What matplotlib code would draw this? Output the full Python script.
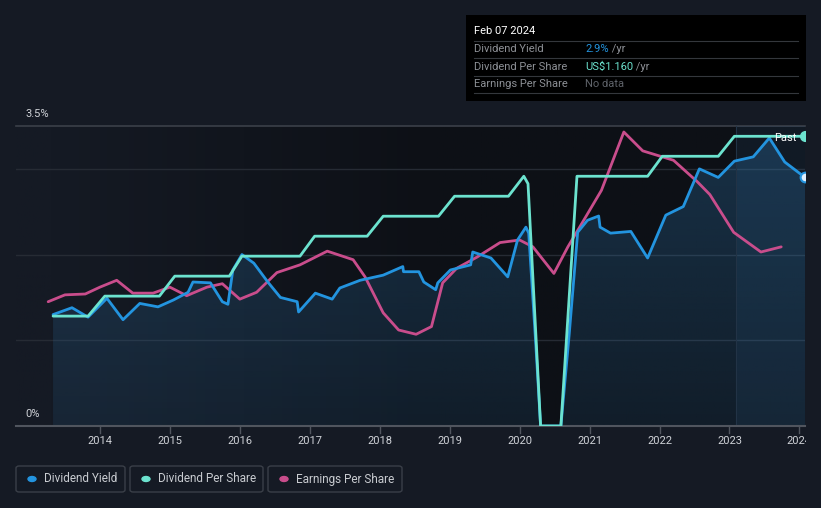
import numpy as np
import matplotlib.pyplot as plt
from matplotlib.patches import FancyBboxPatch, Rectangle
from matplotlib.transforms import Bbox, TransformedBbox
from matplotlib.colors import to_rgb

plt.rcParams['font.family'] = ['Roboto', 'DejaVu Sans']

# dividend yield (%)
yield_x = [2013.33, 2013.6, 2013.83, 2014.1, 2014.33, 2014.57, 2014.83, 2015.05, 2015.26, 2015.33,
           2015.58, 2015.75, 2015.83, 2015.9, 2016.03, 2016.2, 2016.4, 2016.58, 2016.82, 2016.84,
           2017.08, 2017.32, 2017.43, 2017.72, 2018.05, 2018.33, 2018.34, 2018.56, 2018.63, 2018.8,
           2018.83, 2019.01, 2019.3, 2019.33, 2019.59, 2019.83, 2019.97, 2020.09, 2020.13, 2020.23,
           2020.3, 2020.59, 2020.71, 2020.83, 2020.97, 2021.13, 2021.15, 2021.3, 2021.59, 2021.83,
           2022.09, 2022.34, 2022.57, 2022.84, 2023.07, 2023.34, 2023.57, 2023.79, 2024.08]
yield_y = [1.30, 1.38, 1.27, 1.49, 1.24, 1.43, 1.39, 1.47, 1.56, 1.68,
           1.67, 1.45, 1.42, 1.82, 2.00, 1.90, 1.68, 1.50, 1.45, 1.33,
           1.55, 1.48, 1.61, 1.70, 1.76, 1.86, 1.80, 1.80, 1.68, 1.59,
           1.67, 1.82, 1.88, 2.03, 1.96, 1.74, 2.17, 2.32, 2.25, 0.97,
           0.0, 0.0, 1.08, 2.26, 2.40, 2.45, 2.32, 2.25, 2.27, 1.96,
           2.46, 2.56, 3.00, 2.90, 3.09, 3.14, 3.36, 3.08, 2.90]

# dividend per share (US$)
dps_x = [2013.33, 2013.83, 2014.07, 2014.85, 2015.07, 2015.85, 2016.03, 2016.86, 2017.07, 2017.82,
         2018.05, 2018.84, 2019.07, 2019.84, 2020.06, 2020.12, 2020.3, 2020.59, 2020.82, 2021.83,
         2022.04, 2022.84, 2023.07, 2024.08]
dps_y = [0.44, 0.44, 0.52, 0.52, 0.60, 0.60, 0.68, 0.68, 0.76, 0.76,
         0.84, 0.84, 0.92, 0.92, 1.00, 0.97, 0.0, 0.0, 1.00, 1.00,
         1.08, 1.08, 1.16, 1.16]

# earnings per share (relative scale)
eps_x = [2013.26, 2013.5, 2013.79, 2014.0, 2014.24, 2014.47, 2014.76, 2015.0, 2015.24, 2015.53,
         2015.75, 2016.0, 2016.24, 2016.53, 2016.86, 2017.25, 2017.62, 2017.79, 2018.05, 2018.27,
         2018.52, 2018.74, 2018.9, 2019.1, 2019.39, 2019.72, 2020.0, 2020.19, 2020.49, 2020.69,
         2020.88, 2021.17, 2021.49, 2021.76, 2022.2, 2022.54, 2022.72, 2023.06, 2023.45, 2023.74]
eps_y = [1.45, 1.53, 1.54, 1.62, 1.70, 1.55, 1.55, 1.62, 1.52, 1.62,
         1.66, 1.48, 1.56, 1.79, 1.88, 2.04, 1.94, 1.74, 1.32, 1.12,
         1.07, 1.16, 1.67, 1.84, 1.97, 2.14, 2.17, 2.09, 1.78, 2.09,
         2.35, 2.75, 3.43, 3.21, 3.10, 2.85, 2.70, 2.26, 2.03, 2.09]

years = list(range(2014, 2025))
past_start = 2023.1

BG = '#151a24'
DARK = '#0d1016'
BLUE = '#2394df'
TEAL = '#6ce3cf'
PINK = '#c94d8c'

W, H = 821, 508
X0, X1 = 2012.8, 2024.08
fig = plt.figure(figsize=(W / 100, H / 100), dpi=100, facecolor=BG)
ax = fig.add_axes([16 / W, (H - 426) / H, (805 - 16) / W, 300 / H])
ax.set_facecolor(BG)
ax.set_xlim(X0, X1)
ax.set_ylim(0, 3.5)
for s in ax.spines.values():
    s.set_visible(False)
ax.set_xticks([])
ax.set_yticks([])

# background: fades from page colour to dark towards the right
xs = np.linspace(X0, X1, 400)
t = np.clip((xs - 2013.3) / 5.5, 0, 1)
c0, c1 = np.array(to_rgb(BG)), np.array(to_rgb(DARK))
bg_img = (c0[None, :] * (1 - t[:, None]) + c1[None, :] * t[:, None])[None, :, :]
ax.imshow(bg_img, extent=[X0, X1, 0, 3.5], aspect='auto', zorder=0.5)

# gridlines
for g in [1, 2, 3]:
    ax.axhline(g, color='#262b34', lw=1, zorder=1)
ax.axhline(3.5, color='#3b4049', lw=1.2, zorder=1, clip_on=False)
ax.axhline(0, color='#50555e', lw=1.5, zorder=5, clip_on=False)

# area under yield, translucent blue fading downwards
poly = ax.fill_between(yield_x, yield_y, 0, color='none', lw=0)
a = np.linspace(0.13, 0.32, 256)
fill_img = np.zeros((256, 1, 4))
fill_img[:, 0, :3] = to_rgb('#2f78b0')
fill_img[:, 0, 3] = a
im = ax.imshow(fill_img, extent=[X0, X1, 0, 3.5], origin='lower', aspect='auto', zorder=2)
im.set_clip_path(poly.get_paths()[0], transform=ax.transData)

# past region
ax.axvspan(past_start, X1, color='#3a78b0', alpha=0.1, lw=0, zorder=2.5)
ax.axvline(past_start, color='#223346', lw=0.8, zorder=2.5)

ax2 = ax.twinx()
ax2.set_ylim(0, 1.16 * 3.5 / 3.38)
ax2.axis('off')

ax.plot(eps_x, eps_y, color=PINK, lw=2, zorder=6, solid_capstyle='round', solid_joinstyle='round')
ax.plot(yield_x, yield_y, color=BLUE, lw=2, zorder=7, solid_capstyle='round', solid_joinstyle='round')
ax2.plot(dps_x, dps_y, color=TEAL, lw=2, zorder=8, solid_capstyle='round', solid_joinstyle='round')
ax2.plot([dps_x[-1]], [dps_y[-1]], 'o', ms=7, mfc=TEAL, mec=TEAL, zorder=9)
ax.plot([yield_x[-1]], [yield_y[-1]], 'o', ms=7, mfc='#dff0ff', mec=BLUE, mew=1.5, zorder=9)

fig.text(785 / W, 1 - 138 / H, 'Past', color='white', fontsize=8, ha='center', va='center', zorder=10)

# y labels
fig.text(25 / W, 1 - 114 / H, '3.5%', color='#d0d3d8', fontsize=8, va='center')
fig.text(25 / W, 1 - 414 / H, '0%', color='#d0d3d8', fontsize=8, va='center')

# x ticks and labels, last one cut at the plot edge
clip_box = TransformedBbox(Bbox([[0, 0], [806 / W, 1]]), fig.transFigure)
for y in years:
    ax.plot([y, y], [0, -0.08], color='#50555e', lw=1, clip_on=False, zorder=5)
    lbl = ax.text(y, -0.18, str(y), color='#d0d3d8', fontsize=8, ha='center', va='center',
                  clip_on=True)
    lbl.set_clip_box(clip_box)

# tooltip
fig.patches.append(Rectangle((466 / W, 1 - 101 / H), 340 / W, 86 / H, transform=fig.transFigure,
                             facecolor='#000000', edgecolor='none'))
fig.text(474 / W, 1 - 31 / H, 'Feb 07 2024', color='white', fontsize=8, va='center')
for yy in [41, 58, 76, 93]:
    fig.lines.append(plt.Line2D([474 / W, 798 / W], [1 - yy / H, 1 - yy / H],
                                transform=fig.transFigure, color='#34373c', lw=0.8))
rows = [('Dividend Yield', '2.9%', BLUE, ' /yr', 49),
        ('Dividend Per Share', 'US$1.160', TEAL, ' /yr', 67),
        ('Earnings Per Share', 'No data', '#5f636a', '', 84)]
for label, val, col, unit, yy in rows:
    fig.text(474 / W, 1 - yy / H, label, color='#8d9096', fontsize=8, va='center')
    t = fig.text(585 / W, 1 - yy / H, val, color=col, fontsize=8, va='center')
    if unit:
        fig.canvas.draw()
        bb = t.get_window_extent()
        fig.text(bb.x1 / W, 1 - yy / H, unit, color='#8d9096', fontsize=8, va='center')

# legend
legend = [('Dividend Yield', BLUE, 16, 125), ('Dividend Per Share', TEAL, 130, 263),
          ('Earnings Per Share', PINK, 268, 402)]
for name, col, x0, x1 in legend:
    fig.patches.append(FancyBboxPatch((x0 / W, 1 - 492 / H), (x1 - x0) / W, 26 / H,
                                      boxstyle='round,pad=0,rounding_size=0.004',
                                      transform=fig.transFigure, facecolor='none',
                                      edgecolor='#3a3f48', lw=1))
    fig.patches.append(plt.Circle(((x0 + 16) / W, 1 - 479 / H), 4 / W, transform=fig.transFigure,
                                  color=col))
    fig.text((x0 + 28) / W, 1 - 479 / H, name, color='#c9ccd1', fontsize=8.5, va='center')

fig.savefig('out.png', dpi=100, facecolor=BG)
